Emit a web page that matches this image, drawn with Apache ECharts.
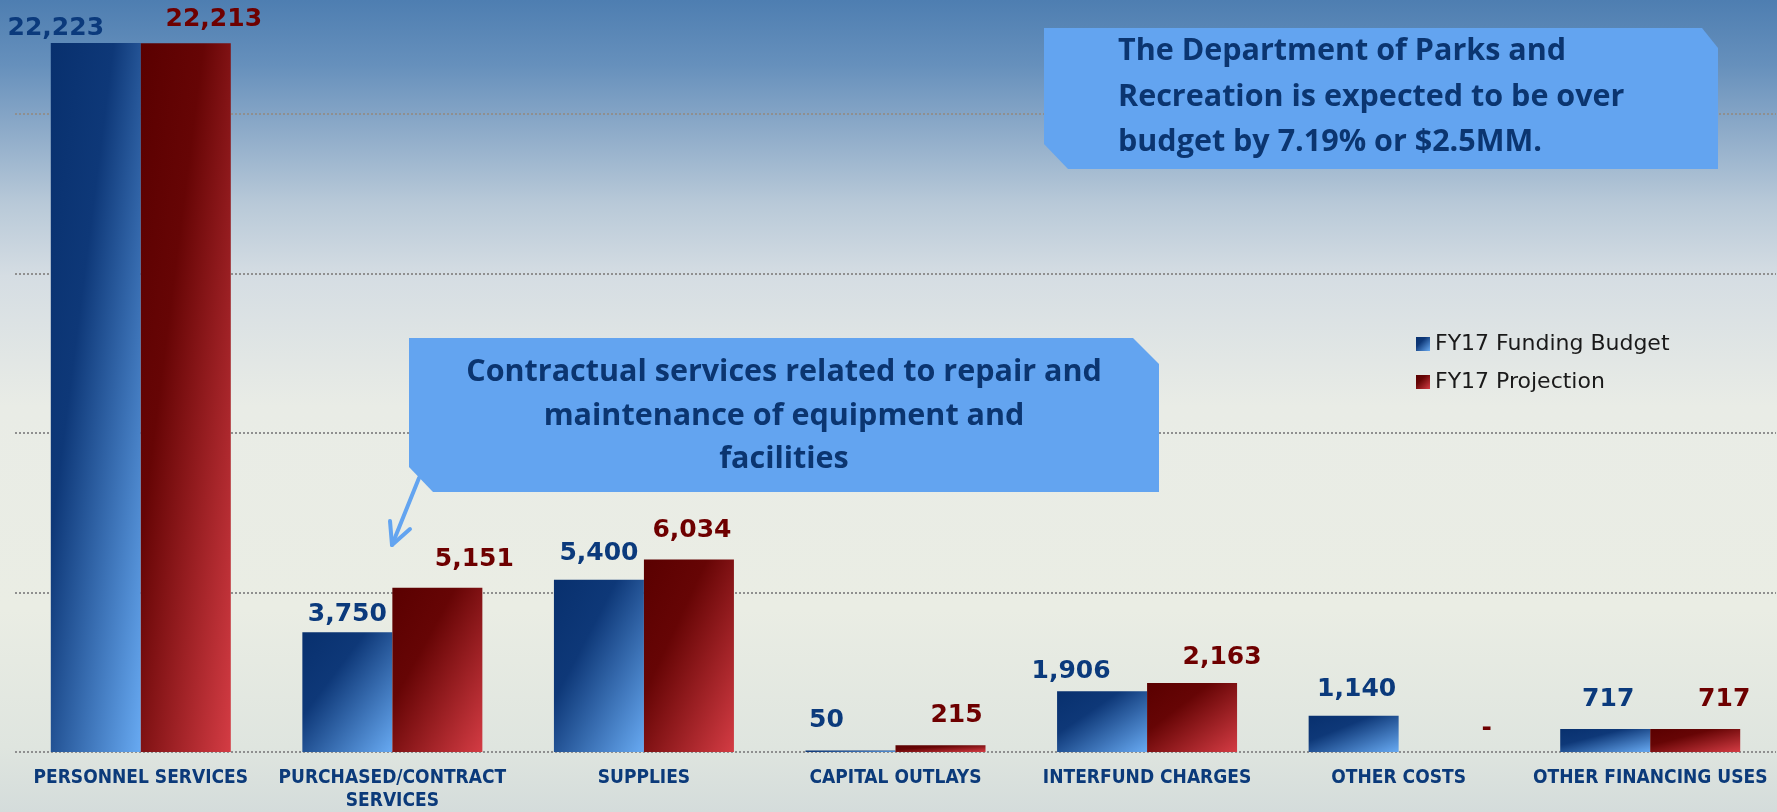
<!DOCTYPE html>
<html>
<head>
<meta charset="utf-8">
<script src="https://cdn.jsdelivr.net/npm/echarts@6/dist/echarts.min.js"></script>
<style>
html,body{margin:0;padding:0;overflow:hidden;}
#chart{width:1777px;height:812px;}
</style>
</head>
<body>
<div id="chart"></div>
<script>
// ---- data ----
const categories = ['PERSONNEL SERVICES', 'PURCHASED/CONTRACT\nSERVICES', 'SUPPLIES', 'CAPITAL OUTLAYS', 'INTERFUND CHARGES', 'OTHER COSTS', 'OTHER FINANCING USES'];
const seriesNames = ['FY17 Funding Budget', 'FY17 Projection'];
const budgetValues = [22223, 3750, 5400, 50, 1906, 1140, 717];
const projectionValues = [22213, 5151, 6034, 215, 2163, 0, 717];
const axisMin = 0, axisMax = 23570, axisStep = 5000;
const calloutTop = ['The Department of Parks and', 'Recreation is expected to be over', 'budget by 7.19% or $2.5MM.'];
const calloutMid = ['Contractual services related to repair and', 'maintenance of equipment and', 'facilities'];

// ---- styling (label nudges in px, not data) ----
const budgetLabelNudge = [[-40, -1], [0, -5], [0, -13], [-24, -17], [-31, -7], [3, -13], [3, -17]];
const projectionLabelNudge = [[28, -11], [37, -15], [3, -16], [16, -17], [30, -12], [43, -11], [29, -17]];
const blueStops = [{offset: 0, color: '#08306e'}, {offset: 0.35, color: '#0e3878'}, {offset: 1, color: '#68aaf2'}];
const redStops = [{offset: 0, color: '#5a0000'}, {offset: 0.35, color: '#660505'}, {offset: 1, color: '#d43c44'}];
const BAR_W = 90;

const chart = echarts.init(document.getElementById('chart'), null, {renderer: 'canvas'});

function fmt(p) {
  return p.value === 0 ? '-' : Number(p.value).toLocaleString('en-US');
}
function grad(x2, y2, stops) {
  return {type: 'linear', x: 0, y: 0, x2: x2, y2: y2, colorStops: stops};
}

function makeSeries(name, values, stops, labelColor, nudges, heights) {
  return {
    name: name,
    type: 'bar',
    barWidth: BAR_W,
    barGap: '0%',
    itemStyle: {color: grad(1, 1, stops)},
    label: {
      show: true, position: 'top', distance: 0,
      fontFamily: 'DejaVu Sans', fontWeight: 'bold', fontSize: 25, lineHeight: 26,
      color: labelColor, formatter: fmt
    },
    data: values.map((v, i) => {
      const h = heights ? Math.max(heights[i], 0.001) : BAR_W;
      const w = BAR_W;
      const d = h * h + w * w;
      return {
        value: v,
        itemStyle: {color: grad(2 * h * h / d, 2 * w * w / d, stops)},
        label: {offset: nudges[i]}
      };
    })
  };
}

const bgGrad = {type: 'linear', x: 0, y: 0, x2: 0, y2: 1, colorStops: [
  {offset: 0, color: '#4e7eb1'}, {offset: 0.08, color: '#6690bc'}, {offset: 0.15, color: '#88a7c7'},
  {offset: 0.25, color: '#b8c9d8'}, {offset: 0.34, color: '#d5dde3'}, {offset: 0.5, color: '#e9ece6'},
  {offset: 0.75, color: '#eaede4'}, {offset: 0.92, color: '#dfe5df'}, {offset: 1, color: '#d4dcdb'}
]};

const calloutFill = '#63a4f0';
const textNavy = '#0b3570';

function buildOption(hB, hP) {
  return {
    animation: false,
    backgroundColor: bgGrad,
    grid: {left: 15, right: 1, top: 0, bottom: 60, containLabel: false, outerBoundsMode: 'none'},
    legend: {
      orient: 'vertical', left: 1411, top: 328, itemWidth: 14, itemHeight: 14, itemGap: 16,
      icon: 'rect',
      textStyle: {fontFamily: 'DejaVu Sans', fontSize: 22, color: '#1a1a1a'},
      data: seriesNames
    },
    xAxis: {
      type: 'category', data: categories,
      axisLine: {show: false}, axisTick: {show: false},
      axisLabel: {
        interval: 0, margin: 15, color: '#0b3a7a',
        fontFamily: "'Liberation Sans Narrow', 'DejaVu Sans Condensed', sans-serif",
        fontWeight: 'bold', fontSize: 19, lineHeight: 23
      }
    },
    yAxis: {
      type: 'value', min: axisMin, max: axisMax, interval: axisStep,
      axisLabel: {show: false}, axisLine: {show: false}, axisTick: {show: false},
      splitLine: {show: true, showMaxLine: false, lineStyle: {color: '#8f8f8f', width: 2, type: [2, 2]}}
    },
    series: [
      makeSeries(seriesNames[0], budgetValues, blueStops, '#0b3a7c', budgetLabelNudge, hB),
      makeSeries(seriesNames[1], projectionValues, redStops, '#6e0000', projectionLabelNudge, hP)
    ],
    graphic: [
      {type: 'polygon', z: 100, shape: {points: [[1044, 28], [1702, 28], [1718, 48], [1718, 169], [1068, 169], [1044, 144]]},
        style: {fill: calloutFill}},
      {type: 'text', z: 101, style: {text: calloutTop.join('\n'), x: 1118, y: 97, textAlign: 'left', textVerticalAlign: 'middle',
        font: "bold 30.5px 'Open Sans'", lineHeight: 45.5, fill: textNavy}},
      {type: 'polyline', z: 99, shape: {points: [[419, 478], [392, 545]]}, style: {stroke: calloutFill, lineWidth: 4, lineCap: 'round'}},
      {type: 'polyline', z: 99, shape: {points: [[390, 521], [392, 545], [410, 529]]}, style: {stroke: calloutFill, lineWidth: 4, lineCap: 'round', lineJoin: 'round', fill: null}},
      {type: 'polygon', z: 100, shape: {points: [[409, 338], [1133, 338], [1159, 364], [1159, 492], [433, 492], [409, 467]]},
        style: {fill: calloutFill}},
      {type: 'text', z: 101, style: {text: calloutMid.join('\n'), x: 784, y: 416, textAlign: 'center', textVerticalAlign: 'middle',
        font: "bold 30.5px 'Open Sans'", lineHeight: 43.5, fill: textNavy}}
    ]
  };
}

chart.setOption(buildOption(null, null));
function heightsOf(values) {
  const y0 = chart.convertToPixel({yAxisIndex: 0}, 0);
  return values.map(v => y0 - chart.convertToPixel({yAxisIndex: 0}, v));
}
chart.setOption(buildOption(heightsOf(budgetValues), heightsOf(projectionValues)), true);
</script>
</body>
</html>
